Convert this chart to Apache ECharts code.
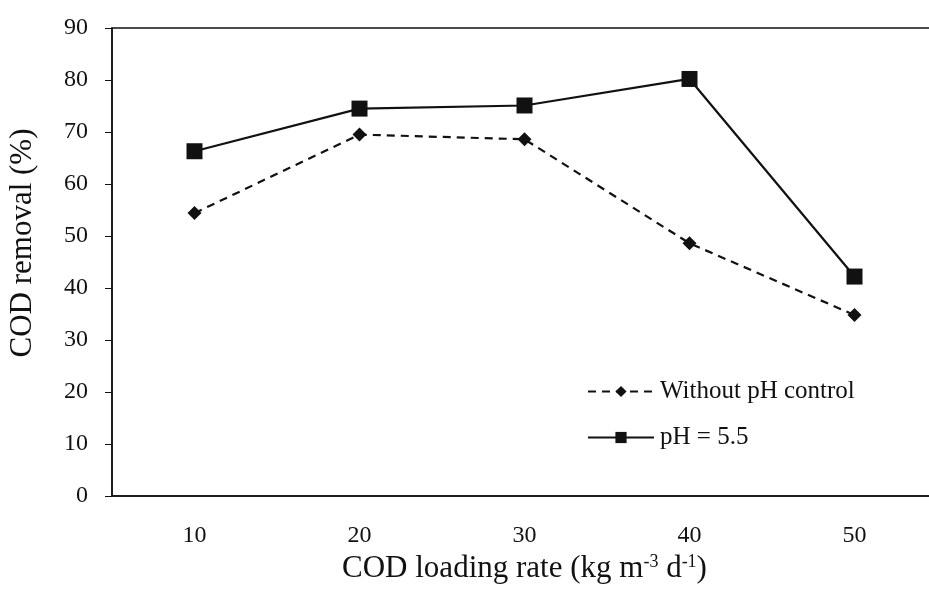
<!DOCTYPE html>
<html>
<head>
<meta charset="utf-8">
<script src="https://cdn.jsdelivr.net/npm/echarts@6/dist/echarts.min.js"></script>
<style>
html,body{margin:0;padding:0;background:#fff;}
#chart{width:929px;height:593px;}
</style>
</head>
<body>
<div id="chart"></div>
<script>
var categories = ['10', '20', '30', '40', '50'];
var withoutPH = [54.4, 69.5, 68.6, 48.6, 34.8];
var ph55 = [66.3, 74.5, 75.1, 80.2, 42.2];
var yTicks = [0, 10, 20, 30, 40, 50, 60, 70, 80, 90];

var font = '"Liberation Serif", "Times New Roman", serif';
var ink = '#111';
var chart = echarts.init(document.getElementById('chart'));
chart.setOption({
  backgroundColor: '#fff',
  animation: false,
  grid: {
    left: 112, top: 28, width: 825, bottom: 97,
    containLabel: false, outerBoundsMode: 'none',
    show: true, borderColor: ink, borderWidth: 1.5, backgroundColor: 'transparent'
  },
  legend: {
    left: 582, top: 374, orient: 'vertical',
    itemWidth: 66, itemHeight: 14, itemGap: 21,
    textStyle: { fontFamily: font, fontSize: 25, color: ink, padding: [0,0,0,1] },
    data: ['Without pH control', 'pH = 5.5']
  },
  xAxis: {
    type: 'category',
    data: categories,
    boundaryGap: true,
    axisLine: { lineStyle: { color: ink, width: 1.5 } },
    axisTick: { alignWithLabel: true, length: 5, lineStyle: { color: ink } },
    axisLabel: { fontFamily: font, fontSize: 24, color: ink, margin: 28 },
    name: '{t|COD loading rate (kg m}{s|-3}{t| d}{s|-1}{t|)}',
    nameLocation: 'middle', nameGap: 54,
    nameTextStyle: {
      rich: {
        t: { fontFamily: font, fontSize: 31, color: ink },
        s: { fontFamily: font, fontSize: 18, color: ink, verticalAlign: 'top', padding: [0,0,12,0] }
      }
    }
  },
  yAxis: {
    type: 'value', min: yTicks[0], max: yTicks[yTicks.length - 1], interval: 10,
    axisLine: { show: true, lineStyle: { color: ink, width: 1.5 } },
    axisTick: { show: true, length: 7, lineStyle: { color: ink } },
    splitLine: { show: false },
    axisLabel: { fontFamily: font, fontSize: 24, color: ink, margin: 24 },
    name: 'COD removal (%)', nameLocation: 'middle', nameGap: 74,
    nameTextStyle: { fontFamily: font, fontSize: 31, color: ink, padding: [0, 0, 0, 38] }
  },
  series: [
    {
      name: 'Without pH control', type: 'line', data: withoutPH,
      symbol: 'diamond', symbolSize: 14,
      itemStyle: { color: ink },
      lineStyle: { color: ink, width: 2.2, type: [8, 6] }
    },
    {
      name: 'pH = 5.5', type: 'line', data: ph55,
      symbol: 'rect', symbolSize: 16,
      itemStyle: { color: ink },
      lineStyle: { color: ink, width: 2.2, type: 'solid' }
    }
  ]
});
</script>
</body>
</html>
